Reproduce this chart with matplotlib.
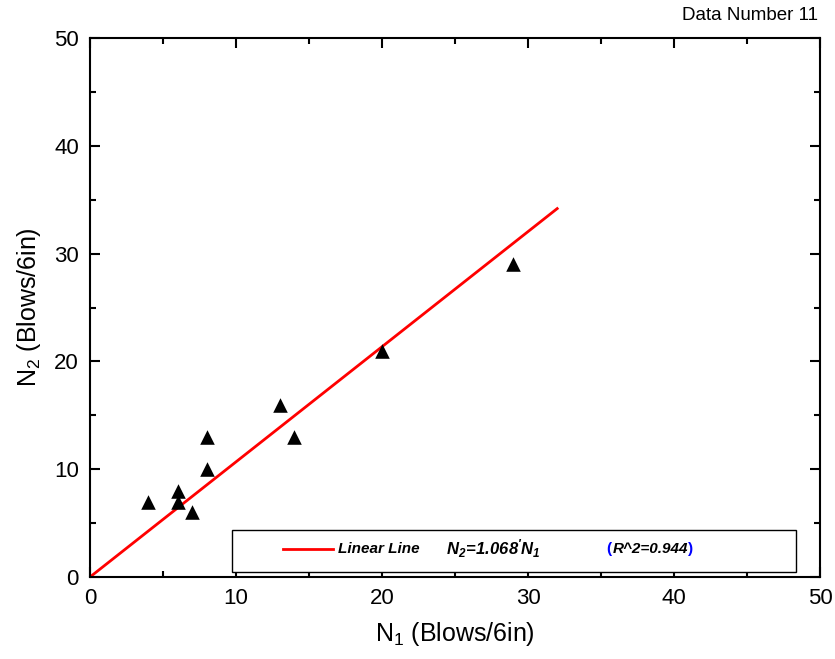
import matplotlib
matplotlib.use("Agg")
import matplotlib.pyplot as plt
import numpy as np
from matplotlib.patches import Rectangle
from matplotlib.ticker import MultipleLocator

plt.rcParams['font.family'] = ['Liberation Sans', 'DejaVu Sans']
plt.rcParams['mathtext.fontset'] = 'custom'
plt.rcParams['mathtext.rm'] = 'Liberation Sans'
plt.rcParams['mathtext.it'] = 'Liberation Sans:italic'
plt.rcParams['mathtext.bf'] = 'Liberation Sans:bold:italic'

n1 = [4, 6, 6, 7, 8, 8, 13, 14, 20, 29]
n2 = [7, 8, 7, 6, 13, 10, 16, 13, 21, 29]
slope = 1.068
line_x = [0, 32]
r2 = 0.944

fig = plt.figure(figsize=(8.35, 6.59), dpi=100)
ax = fig.add_axes([90/835, 1-577/659, 730/835, 539/659])

lx = np.array(line_x, dtype=float)
ax.plot(lx, slope*lx, color='red', lw=2, zorder=2)
ax.scatter(n1, n2, marker='^', s=110, color='black', zorder=3, linewidths=0)

ax.set_xlim(0, 50)
ax.set_ylim(0, 50)
ax.xaxis.set_major_locator(MultipleLocator(10))
ax.yaxis.set_major_locator(MultipleLocator(10))
ax.xaxis.set_minor_locator(MultipleLocator(5))
ax.yaxis.set_minor_locator(MultipleLocator(5))
ax.tick_params(which='both', direction='in', top=True, right=True, width=1.5, labelsize=16, pad=8)
ax.tick_params(which='major', length=7)
ax.tick_params(which='minor', length=4)
for sp in ax.spines.values():
    sp.set_linewidth(1.5)

ax.set_xlabel('N$_1$ (Blows/6in)', fontsize=18, labelpad=8)
ax.set_ylabel('N$_2$ (Blows/6in)', fontsize=18, labelpad=8)

fig.text(818/835, 1-16/659, 'Data Number 11', ha='right', va='center', fontsize=13.5)

# legend box
x0 = (232-90)/730; x1 = (796-90)/730
y0 = (577-572)/539; y1 = (577-530)/539
ax.add_patch(Rectangle((x0, y0), x1-x0, y1-y0, transform=ax.transAxes,
                       facecolor='white', edgecolor='black', lw=1, zorder=4))
ym = (577-549)/539
ax.plot([(283-90)/730, (333-90)/730], [ym, ym], transform=ax.transAxes,
        color='red', lw=2, zorder=5)
fs = 11
ax.text((338-90)/730, ym, 'Linear Line', transform=ax.transAxes, fontsize=fs,
        fontweight='bold', style='italic', va='center', zorder=5)
ax.text((446-90)/730, ym, r"$\mathbf{N_2\!=\!1.068'N_1}$", transform=ax.transAxes,
        fontsize=fs + 1, va='center', zorder=5)
ax.text((606-90)/730, ym, '(', transform=ax.transAxes, fontsize=fs,
        fontweight='bold', color='blue', va='center', zorder=5)
ax.text((613-90)/730, ym, 'R^2=%.3f' % r2, transform=ax.transAxes, fontsize=fs,
        fontweight='bold', style='italic', va='center', zorder=5)
ax.text((688-90)/730, ym, ')', transform=ax.transAxes, fontsize=fs,
        fontweight='bold', color='blue', va='center', zorder=5)

fig.savefig('out.png', dpi=100)
